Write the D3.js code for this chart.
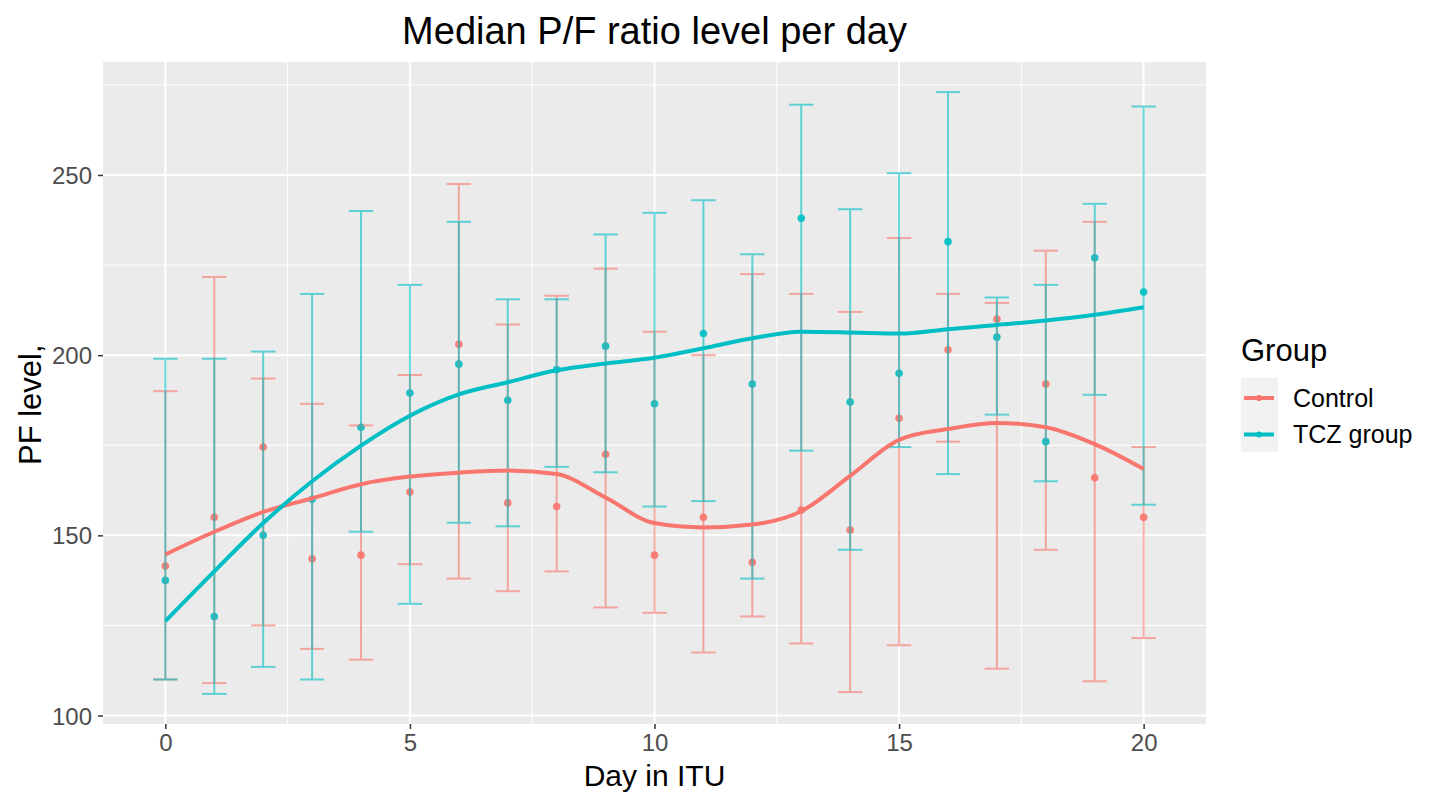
<!DOCTYPE html>
<html>
<head>
	<meta charset="utf-8">
	<title>Median P/F ratio level per day</title>
	<script src="https://d3js.org/d3.v7.min.js"></script>
	<style>
		body { margin: 0; background: #fff; }
		text { font-family: "Liberation Sans", Arial, sans-serif; }
	</style>
</head>
<body>
	<div id="chart"></div>
	<script>
		// Data
		var days = [0, 1, 2, 3, 4, 5, 6, 7, 8, 9, 10, 11, 12, 13, 14, 15, 16, 17, 18, 19, 20];
		var groups = ["Control", "TCZ group"];

		var controlMedian = [141.5, 155, 174.5, 143.5, 144.5, 162, 203, 159, 158, 172.5, 144.5, 155, 142.5, 157, 151.5, 182.5, 201.5, 210, 192, 166, 155];
		var controlLow = [110, 109, 125, 118.5, 115.5, 142, 138, 134.5, 140, 130, 128.5, 117.5, 127.5, 120, 106.5, 119.5, 176, 113, 146, 109.5, 121.5];
		var controlHigh = [190, 221.7, 193.5, 186.5, 180.5, 194.5, 247.5, 208.5, 216.5, 224, 206.5, 200, 222.5, 217, 212, 232.5, 217, 214.5, 229, 237, 174.5];
		var controlSmooth = [144.7, 151, 156.5, 160.3, 164.2, 166.3, 167.4, 168, 167, 160.5, 153.4, 152.2, 153, 156.7, 166.5, 176.5, 179.5, 181.2, 180, 175.3, 168.4];

		var tczMedian = [137.5, 127.5, 150, 160, 180, 189.5, 197.5, 187.5, 196, 202.5, 186.5, 206, 192, 238, 187, 195, 231.5, 205, 176, 227, 217.5];
		var tczLow = [110, 106, 113.5, 110, 151, 131, 153.5, 152.5, 169, 167.5, 158, 159.5, 138, 173.5, 146, 174.5, 167, 183.5, 165, 189, 158.5];
		var tczHigh = [199, 199, 201, 217, 240, 219.5, 237, 215.5, 215.5, 233.5, 239.5, 243, 228, 269.5, 240.5, 250.5, 273, 216, 219.5, 242, 269];
		var tczSmooth = [126.2, 140, 153.4, 165, 174.9, 183.2, 189.1, 192.5, 195.8, 197.7, 199.3, 201.9, 204.7, 206.5, 206.3, 206, 207.2, 208.4, 209.6, 211.2, 213.3];

		var xTicks = [0, 5, 10, 15, 20];
		var yTicks = [100, 150, 200, 250];

		var colors = { "Control": "#F8766D", "TCZ group": "#00BFC4" };

		var series = [
			{ name: "Control", median: controlMedian, low: controlLow, high: controlHigh, smooth: controlSmooth },
			{ name: "TCZ group", median: tczMedian, low: tczLow, high: tczHigh, smooth: tczSmooth }
		];

		// Chart dimensions
		var width = 1433, height = 792;
		var panel = { left: 103, right: 1206, top: 62, bottom: 724 };
		var capHalf = 0.25;

		// Scales (ggplot-like 5% expansion)
		var xMin = d3.min(days) - capHalf, xMax = d3.max(days) + capHalf;
		var xPad = (xMax - xMin) * 0.05;
		var x = d3.scaleLinear()
			.domain([xMin - xPad, xMax + xPad])
			.range([panel.left, panel.right]);

		var yMin = d3.min(controlLow.concat(tczLow)), yMax = d3.max(controlHigh.concat(tczHigh));
		var yPad = (yMax - yMin) * 0.05;
		var y = d3.scaleLinear()
			.domain([yMin - yPad, yMax + yPad])
			.range([panel.bottom, panel.top]);

		var svg = d3.select("#chart")
			.append("svg")
			.attr("width", width)
			.attr("height", height);

		// Panel background
		svg.append("rect")
			.attr("x", panel.left)
			.attr("y", panel.top)
			.attr("width", panel.right - panel.left)
			.attr("height", panel.bottom - panel.top)
			.attr("fill", "#EBEBEB");

		// Minor grid
		var xMinor = [-2.5, 2.5, 7.5, 12.5, 17.5, 22.5].filter(d => x(d) > panel.left && x(d) < panel.right);
		var yMinor = [75, 125, 175, 225, 275].filter(d => y(d) > panel.top && y(d) < panel.bottom);
		svg.selectAll(".xminor").data(xMinor).enter().append("line")
			.attr("x1", d => x(d)).attr("x2", d => x(d))
			.attr("y1", panel.top).attr("y2", panel.bottom)
			.attr("stroke", "#fff").attr("stroke-width", 1);
		svg.selectAll(".yminor").data(yMinor).enter().append("line")
			.attr("x1", panel.left).attr("x2", panel.right)
			.attr("y1", d => y(d)).attr("y2", d => y(d))
			.attr("stroke", "#fff").attr("stroke-width", 1);

		// Major grid
		svg.selectAll(".xmajor").data(xTicks).enter().append("line")
			.attr("x1", d => x(d)).attr("x2", d => x(d))
			.attr("y1", panel.top).attr("y2", panel.bottom)
			.attr("stroke", "#fff").attr("stroke-width", 2);
		svg.selectAll(".ymajor").data(yTicks).enter().append("line")
			.attr("x1", panel.left).attr("x2", panel.right)
			.attr("y1", d => y(d)).attr("y2", d => y(d))
			.attr("stroke", "#fff").attr("stroke-width", 2);

		// Axes
		var xAxis = svg.append("g")
			.attr("transform", "translate(0," + panel.bottom + ")")
			.call(d3.axisBottom(x).tickValues(xTicks).tickSize(5).tickPadding(5));
		var yAxis = svg.append("g")
			.attr("transform", "translate(" + panel.left + ",0)")
			.call(d3.axisLeft(y).tickValues(yTicks).tickSize(5).tickPadding(6));
		[xAxis, yAxis].forEach(function (g) {
			g.select(".domain").remove();
			g.selectAll(".tick line").attr("stroke", "#333333").attr("stroke-width", 1.5);
			g.selectAll(".tick text")
				.attr("fill", "#4D4D4D")
				.style("font-size", "24px")
				.style("font-family", "'Liberation Sans', Arial, sans-serif");
		});
		yAxis.selectAll(".tick text").attr("dy", "0.36em");

		// Points
		series.forEach(function (s) {
			svg.selectAll(null)
				.data(days)
				.enter()
				.append("circle")
				.attr("cx", d => x(d))
				.attr("cy", (d, i) => y(s.median[i]))
				.attr("r", 3.8)
				.attr("fill", colors[s.name])
				.attr("opacity", 0.9);
		});

		// Error bars
		series.forEach(function (s) {
			var g = svg.append("g")
				.attr("stroke", colors[s.name])
				.attr("stroke-width", 2)
				.attr("opacity", 0.6)
				.attr("fill", "none");
			var bars = g.selectAll("g").data(days).enter().append("g");
			bars.append("line")
				.attr("x1", d => x(d)).attr("x2", d => x(d))
				.attr("y1", (d, i) => y(s.low[i])).attr("y2", (d, i) => y(s.high[i]));
			bars.append("line")
				.attr("x1", d => x(d - capHalf)).attr("x2", d => x(d + capHalf))
				.attr("y1", (d, i) => y(s.low[i])).attr("y2", (d, i) => y(s.low[i]));
			bars.append("line")
				.attr("x1", d => x(d - capHalf)).attr("x2", d => x(d + capHalf))
				.attr("y1", (d, i) => y(s.high[i])).attr("y2", (d, i) => y(s.high[i]));
		});

		// Smooth lines
		var line = d3.line()
			.x(d => x(d[0]))
			.y(d => y(d[1]))
			.curve(d3.curveMonotoneX);
		series.forEach(function (s) {
			svg.append("path")
				.datum(days.map((d, i) => [d, s.smooth[i]]))
				.attr("fill", "none")
				.attr("stroke", colors[s.name])
				.attr("stroke-width", 4)
				.attr("d", line);
		});

		// Title
		var cx = (panel.left + panel.right) / 2;
		svg.append("text")
			.attr("x", cx)
			.attr("y", 44)
			.attr("text-anchor", "middle")
			.style("font-size", "38px")
			.attr("fill", "#000")
			.text("Median P/F ratio level per day");

		// Axis titles
		svg.append("text")
			.attr("x", cx)
			.attr("y", 786)
			.attr("text-anchor", "middle")
			.style("font-size", "30px")
			.attr("fill", "#000")
			.text("Day in ITU");
		svg.append("text")
			.attr("transform", "translate(41,465) rotate(-90)")
			.attr("text-anchor", "start")
			.style("font-size", "31px")
			.attr("fill", "#000")
			.text("PF level,");

		// Legend
		var legend = svg.append("g");
		legend.append("text")
			.attr("x", 1241)
			.attr("y", 361)
			.style("font-size", "31px")
			.attr("fill", "#000")
			.text("Group");
		legend.append("rect")
			.attr("x", 1241).attr("y", 378)
			.attr("width", 37).attr("height", 74)
			.attr("fill", "#F2F2F2");
		groups.forEach(function (name, i) {
			var ky = 398 + i * 36.5;
			legend.append("line")
				.attr("x1", 1244).attr("x2", 1274)
				.attr("y1", ky).attr("y2", ky)
				.attr("stroke", colors[name]).attr("stroke-width", 4);
			legend.append("circle")
				.attr("cx", 1259).attr("cy", ky).attr("r", 3)
				.attr("fill", colors[name]);
			legend.append("text")
				.attr("x", 1293).attr("y", ky + 8.5)
				.style("font-size", "25px")
				.attr("fill", "#000")
				.text(name);
		});
	</script>
</body>
</html>
